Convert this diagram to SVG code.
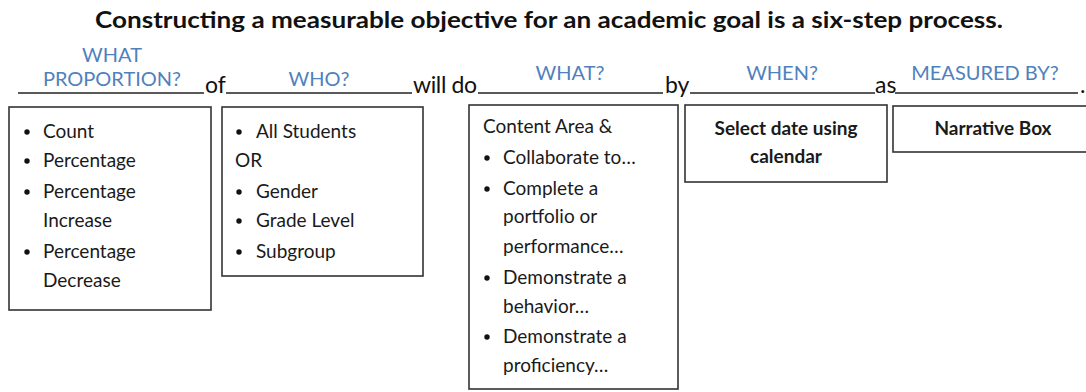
<svg xmlns="http://www.w3.org/2000/svg" width="1086" height="392" viewBox="0 0 1086 392">
<style>
.title{font-family:Lato,"Open Sans","Liberation Sans",sans-serif;font-weight:700;font-size:23px;fill:#111}
.lbl{font-family:Lato,"Open Sans","Liberation Sans",sans-serif;font-size:20px;fill:#4F81BD;text-anchor:middle}
.word{font-family:Lato,"Open Sans","Liberation Sans",sans-serif;font-size:23px;fill:#111}
.t{font-family:Lato,"Open Sans","Liberation Sans",sans-serif;font-size:19px;fill:#1a1a1a}
.tb{font-family:Lato,"Open Sans","Liberation Sans",sans-serif;font-size:19px;font-weight:700;fill:#1a1a1a;text-anchor:middle}
.box{fill:#fff;stroke:#333;stroke-width:1.6}
.ul{stroke:#222;stroke-width:1.4}
.b{fill:#111}
</style>
<rect width="1086" height="392" fill="#fff"/>
<text class="title" x="549" y="28" text-anchor="middle" textLength="908" lengthAdjust="spacingAndGlyphs">Constructing a measurable objective for an academic goal is a six-step process.</text>
<g id="sentence">
<line class="ul" x1="18" y1="93" x2="204" y2="93"/>
<line class="ul" x1="226" y1="93" x2="412" y2="93"/>
<line class="ul" x1="478" y1="93" x2="663" y2="93"/>
<line class="ul" x1="690" y1="93" x2="875" y2="93"/>
<line class="ul" x1="895" y1="93" x2="1078" y2="93"/>
<text class="word" x="205" y="93">of</text>
<text class="word" x="413" y="93" textLength="64">will do</text>
<text class="word" x="665" y="93">by</text>
<text class="word" x="875" y="93">as</text>
<text class="word" x="1080" y="93">.</text>
<text class="lbl" x="112" y="62">WHAT</text>
<text class="lbl" x="112" y="86">PROPORTION?</text>
<text class="lbl" x="319" y="86">WHO?</text>
<text class="lbl" x="570" y="80">WHAT?</text>
<text class="lbl" x="782" y="80">WHEN?</text>
<text class="lbl" x="985" y="80">MEASURED BY?</text>
</g>
<g id="box-proportion">
<rect class="box" x="9" y="107" width="202" height="203"/>
<circle class="b" cx="27" cy="132" r="2.7"/><text class="t" x="43" y="138">Count</text>
<circle class="b" cx="27" cy="161" r="2.7"/><text class="t" x="43" y="167">Percentage</text>
<circle class="b" cx="27" cy="192" r="2.7"/><text class="t" x="43" y="198">Percentage</text>
<text class="t" x="43" y="227">Increase</text>
<circle class="b" cx="27" cy="252" r="2.7"/><text class="t" x="43" y="258">Percentage</text>
<text class="t" x="43" y="287">Decrease</text>
</g>
<g id="box-who">
<rect class="box" x="222" y="107" width="201" height="169"/>
<circle class="b" cx="239" cy="132" r="2.7"/><text class="t" x="256" y="138">All Students</text>
<text class="t" x="235" y="167">OR</text>
<circle class="b" cx="239" cy="192" r="2.7"/><text class="t" x="256" y="198">Gender</text>
<circle class="b" cx="239" cy="221" r="2.7"/><text class="t" x="256" y="227">Grade Level</text>
<circle class="b" cx="239" cy="252" r="2.7"/><text class="t" x="256" y="258">Subgroup</text>
</g>
<g id="box-what">
<rect class="box" x="469" y="105" width="209" height="284"/>
<text class="t" x="483" y="133">Content Area &amp;</text>
<circle class="b" cx="487" cy="158" r="2.7"/><text class="t" x="503" y="164">Collaborate to…</text>
<circle class="b" cx="487" cy="189" r="2.7"/><text class="t" x="503" y="195">Complete a</text>
<text class="t" x="503" y="223">portfolio or</text>
<text class="t" x="503" y="253">performance…</text>
<circle class="b" cx="487" cy="278" r="2.7"/><text class="t" x="503" y="284">Demonstrate a</text>
<text class="t" x="503" y="313">behavior…</text>
<circle class="b" cx="487" cy="337" r="2.7"/><text class="t" x="503" y="343">Demonstrate a</text>
<text class="t" x="503" y="372">proficiency…</text>
</g>
<g id="box-when">
<rect class="box" x="685" y="105" width="202" height="77"/>
<text class="tb" x="786" y="135">Select date using</text>
<text class="tb" x="786" y="163">calendar</text>
</g>
<g id="box-measured">
<rect class="box" x="893" y="106" width="200" height="46"/>
<text class="tb" x="993" y="135">Narrative Box</text>
</g>
<g id="connectors"/>
</svg>
